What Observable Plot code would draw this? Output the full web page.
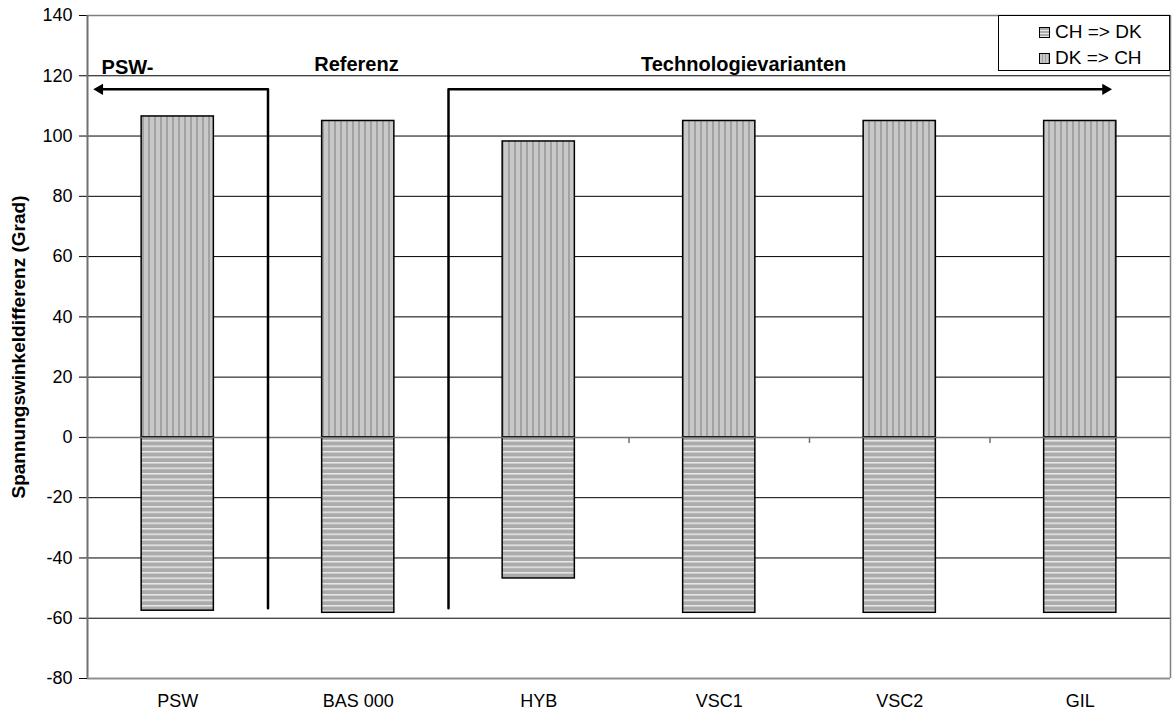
<!DOCTYPE html>
<html>
<head>
<meta charset="utf-8">
<script src="https://cdn.jsdelivr.net/npm/d3@7"></script>
<script src="https://cdn.jsdelivr.net/npm/@observablehq/plot@0.6"></script>
<style>
  html, body { margin: 0; padding: 0; background: #fff; }
  #wrap { position: relative; width: 1175px; height: 715px; font-family: "Liberation Sans", Arial, sans-serif; }
  #legend { position: absolute; left: 998px; top: 15px; width: 172px; height: 56px; border: 1px solid #000; background: #fff; box-sizing: border-box; font-size: 19px; color: #000; }
  #legend .row { position: absolute; left: 40px; height: 22px; display: flex; align-items: center; white-space: nowrap; }
  #legend .sw { width: 11px; height: 11px; border: 1px solid #000; margin-right: 5px; box-sizing: border-box; }
</style>
</head>
<body>
<svg width="0" height="0" style="position:absolute">
  <defs>
    <pattern id="vpat" patternUnits="userSpaceOnUse" width="6" height="6">
      <rect width="6" height="6" fill="#c8c8c8"></rect>
      <rect x="4" width="2" height="6" fill="#a2a2a2"></rect>
    </pattern>
    <pattern id="hpat" patternUnits="userSpaceOnUse" width="6" height="5.5">
      <rect width="6" height="5.5" fill="#ababab"></rect>
      <rect y="0" width="6" height="1.5" fill="#e8e8e8"></rect>
    </pattern>
  </defs>
</svg>
<div id="wrap">
  <div id="chart"></div>
  <div id="legend">
    <div class="row" style="top:5px"><div class="sw" style="background:repeating-linear-gradient(#ababab 0 2px,#e8e8e8 2px 3px)"></div><span>CH =&gt; DK</span></div>
    <div class="row" style="top:31px"><div class="sw" style="background:repeating-linear-gradient(90deg,#c8c8c8 0 2px,#a2a2a2 2px 3px)"></div><span>DK =&gt; CH</span></div>
  </div>
</div>
<script>
const categories = ["PSW", "BAS 000", "HYB", "VSC1", "VSC2", "GIL"];
const dkToCh = [106.5, 105, 98.2, 105, 105, 105];      // positive bars
const chToDk = [-57.5, -58.2, -46.8, -58.2, -58.2, -58.2]; // negative bars
const yTicks = [140, 120, 100, 80, 60, 40, 20, 0, -20, -40, -60, -80];
const groupLabels = ["PSW-", "Referenz", "Technologievarianten"];

const rows = categories.map((c, i) => ({cat: c, i, pos: dkToCh[i], neg: chToDk[i]}));
const xCenters = categories.map((c, i) => i + 0.5);
const boundaries = categories.slice(1).map((c, i) => i + 1);
const font = "Liberation Sans, Arial, sans-serif";

const chart = Plot.plot({
  width: 1175,
  height: 715,
  marginTop: 15,
  marginBottom: 37,
  marginLeft: 87,
  marginRight: 5,
  style: {fontFamily: font, fontSize: "18px", color: "#000", background: "#fff"},
  x: {domain: [0, 6], ticks: xCenters, tickFormat: d => categories[Math.floor(d)], tickSize: 0, tickPadding: 16, label: null},
  y: {domain: [-80, 140], ticks: yTicks, tickSize: 8, tickPadding: 7, label: null, tickFormat: d => String(d).replace("−", "-")},
  marks: [
    Plot.ruleY(yTicks.filter(d => d !== 0 && d !== 140 && d !== -80), {stroke: "#000", strokeWidth: 1}),
    Plot.ruleY([140], {stroke: "#808080", strokeWidth: 1.5}),
    Plot.ruleX([6], {stroke: "#808080", strokeWidth: 1.5}),
    Plot.rect(rows, {x1: d => d.i + 0.3, x2: d => d.i + 0.7, y1: 0, y2: "pos", fill: "url(#vpat)", stroke: "#000", strokeWidth: 1.5}),
    Plot.rect(rows, {x1: d => d.i + 0.3, x2: d => d.i + 0.7, y1: 0, y2: "neg", fill: "url(#hpat)", stroke: "#000", strokeWidth: 1.5}),
    Plot.ruleY([0], {stroke: "#707070", strokeWidth: 1.5}),
    Plot.ruleX(boundaries, {y1: 0, y2: -2, stroke: "#707070", strokeWidth: 1.5}),
    Plot.ruleX([0], {stroke: "#707070", strokeWidth: 2}),
    Plot.ruleY([-80], {stroke: "#909090", strokeWidth: 2}),
    // group brackets
    Plot.line([[0.07, 115.5], [1, 115.5], [1, -56.7]], {stroke: "#000", strokeWidth: 2.5}),
    Plot.line([[2, -56.7], [2, 115.5], [5.64, 115.5]], {stroke: "#000", strokeWidth: 2.5}),
    Plot.dot([[0.068, 115.5]], {symbol: "triangle", rotate: -90, r: 4.2, fill: "#000", stroke: null}),
    Plot.dot([[5.64, 115.5]], {symbol: "triangle", rotate: 90, r: 4.2, fill: "#000", stroke: null}),
    Plot.text([groupLabels[0]], {x: 0.078, y: 122.6, textAnchor: "start", fontWeight: "bold", fontSize: 20}),
    Plot.text([groupLabels[1]], {x: 1.49, y: 123.6, fontWeight: "bold", fontSize: 20}),
    Plot.text([groupLabels[2]], {x: 3.635, y: 123.6, fontWeight: "bold", fontSize: 20}),
    Plot.text(["Spannungswinkeldifferenz (Grad)"], {frameAnchor: "left", textAnchor: "middle", dx: -69, rotate: -90, fontWeight: "bold", fontSize: 19})
  ]
});
document.getElementById("chart").appendChild(chart);
</script>
</body>
</html>
